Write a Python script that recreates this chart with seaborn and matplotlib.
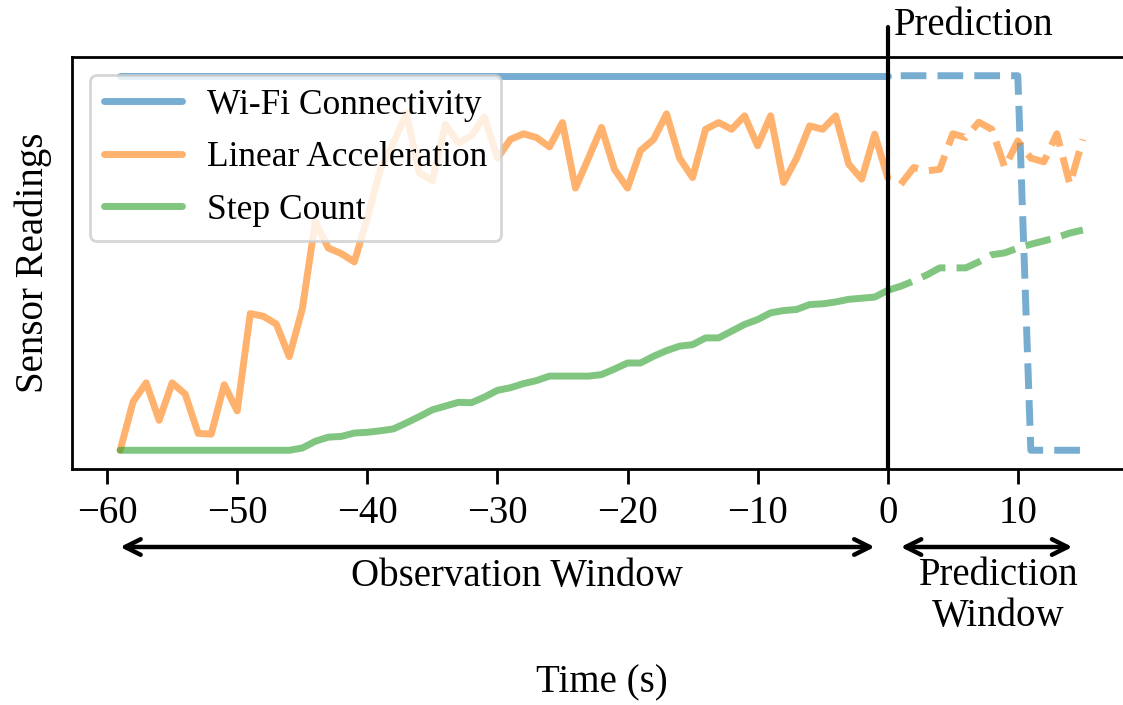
import numpy as np
import pandas as pd
import matplotlib
matplotlib.use("Agg")
import matplotlib.pyplot as plt
import seaborn as sns

# ---------------- data ----------------
t_obs = list(range(-59, 1))          # observation window (-59 .. 0)
t_pred = list(range(1, 16))          # prediction window (1 .. 15)
t_pred_step = list(range(0, 16))    # step-count prediction drawn from 0

wifi_obs = [1.0] * 60
wifi_pred = [1, 1, 1, 1, 1, 1, 1, 1, 1, 1, 0, 0, 0, 0, 0]

accel_obs = [0.00, 0.13, 0.18, 0.08, 0.18, 0.15, 0.045, 0.043, 0.175, 0.105,
             0.365, 0.358, 0.337, 0.25, 0.377, 0.61, 0.54, 0.525, 0.503, 0.62,
             0.75, 0.82, 0.90, 0.74, 0.72, 0.87, 0.82, 0.84, 0.89, 0.78,
             0.83, 0.845, 0.835, 0.81, 0.875, 0.70, 0.78, 0.862, 0.75, 0.70,
             0.80, 0.83, 0.898, 0.78, 0.728, 0.857, 0.875, 0.857, 0.893, 0.813,
             0.893, 0.715, 0.78, 0.866, 0.857, 0.893, 0.764, 0.724, 0.844, 0.728]
accel_pred = [0.71, 0.755, 0.746, 0.75, 0.845, 0.835, 0.876, 0.857, 0.755, 0.826,
              0.78, 0.77, 0.845, 0.71, 0.83]

step_obs = [0, 0, 0, 0, 0, 0, 0, 0, 0, 0,
            0, 0, 0, 0, 0.006, 0.024, 0.035, 0.037, 0.046, 0.048,
            0.052, 0.057, 0.073, 0.09, 0.108, 0.118, 0.128, 0.127, 0.142, 0.16,
            0.167, 0.178, 0.186, 0.198, 0.198, 0.198, 0.198, 0.202, 0.217, 0.233,
            0.233, 0.251, 0.266, 0.278, 0.282, 0.30, 0.30, 0.318, 0.336, 0.349,
            0.367, 0.373, 0.376, 0.389, 0.391, 0.396, 0.403, 0.406, 0.409, 0.427]
step_pred = [0.427, 0.438, 0.452, 0.468, 0.487, 0.487, 0.487, 0.503, 0.522, 0.527,
             0.54, 0.55, 0.559, 0.568, 0.58, 0.588]

series_names = ["Wi-Fi Connectivity", "Linear Acceleration", "Step Count"]
x_ticks = [-60, -50, -40, -30, -20, -10, 0, 10]
obs_window = (-59, -1)
pred_window = (1, 14.2)

# ---------------- style ----------------
sns.set_theme(style="ticks")
plt.rcParams["font.family"] = ["Liberation Serif", "DejaVu Serif"]
plt.rcParams["axes.unicode_minus"] = True
plt.rcParams["text.color"] = "black"
plt.rcParams["axes.labelcolor"] = "black"
plt.rcParams["xtick.color"] = "black"
plt.rcParams["ytick.color"] = "black"
plt.rcParams["axes.edgecolor"] = "black"

palette = sns.color_palette("tab10")
colors = [palette[0], palette[1], palette[2]]
LW = 5
ALPHA = 0.6

fig = plt.figure(figsize=(11.23, 7.05), dpi=100)
ax = fig.add_axes([72 / 1123, 1 - 469 / 705, (1131 - 72) / 1123, (469 - 57) / 705])

obs_df = pd.DataFrame({"t": t_obs, series_names[0]: wifi_obs,
                       series_names[1]: accel_obs, series_names[2]: step_obs})
obs_long = obs_df.melt(id_vars="t", var_name="series", value_name="value")

sns.lineplot(data=obs_long, x="t", y="value", hue="series",
             hue_order=series_names, palette=colors, lw=LW, alpha=ALPHA, ax=ax)

sns.lineplot(x=t_pred, y=wifi_pred, color=colors[0], lw=LW, alpha=ALPHA,
             linestyle="--", ax=ax, legend=False)
sns.lineplot(x=t_pred, y=accel_pred, color=colors[1], lw=LW, alpha=ALPHA,
             linestyle="--", ax=ax, legend=False)
sns.lineplot(x=t_pred_step, y=step_pred, color=colors[2], lw=LW, alpha=ALPHA,
             linestyle="--", ax=ax, legend=False)

ax.set_xlim(-62.7, 18.7)
ax.set_ylim(-0.05, 1.05)
ax.set_xticks(x_ticks)
ax.set_yticks([])
ax.tick_params(axis="x", labelsize=28, length=11, width=2, pad=8,
               colors="black", labelcolor="black")
for sp in ax.spines.values():
    sp.set_linewidth(2)
    sp.set_color("black")

ax.set_xlabel("Time (s)", fontsize=28, color="black")
ax.set_ylabel("Sensor Readings", fontsize=28, color="black")
ax.xaxis.set_label_coords(0.5, (469 - 664) / 412)
ax.yaxis.set_label_coords((52 - 72) / 1059, 0.5)

# prediction boundary
ax.axvline(0, ymin=0, ymax=(469 - 27) / 412, color="black", lw=3, clip_on=False)
ax.text(0.5, (469 - 35) / 412, "Prediction", fontsize=28, ha="left", va="baseline",
        color="black", transform=ax.get_xaxis_transform())

# window arrows
arrow_y = (469 - 547) / 412
for (a, b) in (obs_window, pred_window):
    ax.annotate("", xy=(b, arrow_y), xytext=(a, arrow_y),
                xycoords=("data", "axes fraction"), textcoords=("data", "axes fraction"),
                arrowprops=dict(arrowstyle="<->", lw=3.2, color="black",
                                mutation_scale=28, shrinkA=0, shrinkB=0),
                annotation_clip=False)
ax.text(-28.5, (469 - 586) / 412, "Observation Window", fontsize=28, color="black",
        ha="center", va="baseline", transform=ax.get_xaxis_transform())
ax.text(8.5, (469 - 596) / 412, "Prediction\nWindow", fontsize=28, linespacing=1.12,
        color="black", ha="center", va="center", transform=ax.get_xaxis_transform())

# legend
handles, labels = ax.get_legend_handles_labels()
leg = ax.legend(handles, labels, loc="upper left", fontsize=25.5, handlelength=2.2,
                handletextpad=0.7, labelspacing=0.55, borderpad=0.4,
                framealpha=0.8, fancybox=True, title=None)
leg.get_frame().set_linewidth(2)
leg.get_frame().set_edgecolor("0.8")
for txt in leg.get_texts():
    txt.set_color("black")
for lh in leg.get_lines():
    lh.set_linewidth(LW)
    lh.set_alpha(ALPHA)

fig.savefig("out.png", dpi=100)
